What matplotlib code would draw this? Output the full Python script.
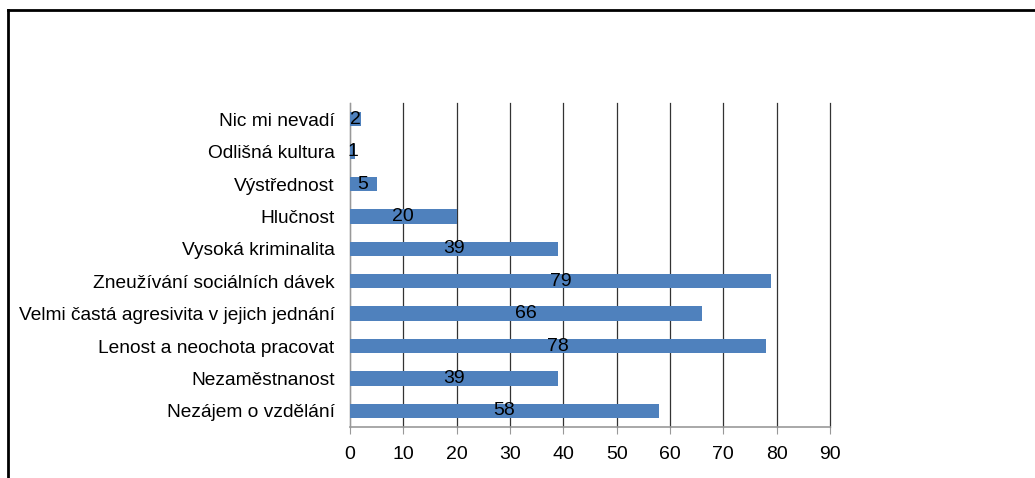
import matplotlib.pyplot as plt
from matplotlib.lines import Line2D

plt.rcParams['font.family'] = ['Liberation Sans', 'DejaVu Sans']

# categories from bottom to top
categories = ['Nezájem o vzdělání', 'Nezaměstnanost', 'Lenost a neochota pracovat',
              'Velmi častá agresivita v jejich jednání', 'Zneužívání sociálních dávek',
              'Vysoká kriminalita', 'Hlučnost', 'Výstřednost', 'Odlišná kultura',
              'Nic mi nevadí']
values = [58, 39, 78, 66, 79, 39, 20, 5, 1, 2]
xticks = [0, 10, 20, 30, 40, 50, 60, 70, 80, 90]

fig = plt.figure(figsize=(10.35, 4.78), dpi=100)
ax = fig.add_axes([0.338, 0.1067, 0.464, 0.6778])

ypos = range(len(categories))
ax.barh(ypos, values, height=0.45, color='#4F81BD', zorder=3)
for y, v in zip(ypos, values):
    ax.text(v / 2, y, str(v), ha='center', va='center', fontsize=14, zorder=4)

ax.set_xlim(0, 90)
ax.set_ylim(-0.5, len(categories) - 0.5)
ax.set_xticks(xticks)
ax.set_yticks(list(ypos))
ax.set_yticklabels(categories, fontsize=13.8)
ax.tick_params(axis='x', labelsize=14, length=5, color='#999999', pad=9)
ax.tick_params(axis='y', length=0, pad=11)
ax.grid(axis='x', color='#333333', linewidth=0.9, zorder=0)
for gl in ax.get_xgridlines():
    gl.set_clip_on(False)
for s in ['top', 'right']:
    ax.spines[s].set_visible(False)
ax.spines['left'].set_color('#999999')
ax.spines['bottom'].set_color('#999999')
ax.spines['bottom'].set_linewidth(1.2)

# outer frame (left and top edges)
fig.add_artist(Line2D([8 / 1035, 8 / 1035], [0, 1 - 10 / 478], color='black', lw=2))
fig.add_artist(Line2D([8 / 1035, 1], [1 - 10 / 478, 1 - 10 / 478], color='black', lw=2))

fig.savefig('out.png', dpi=100)
